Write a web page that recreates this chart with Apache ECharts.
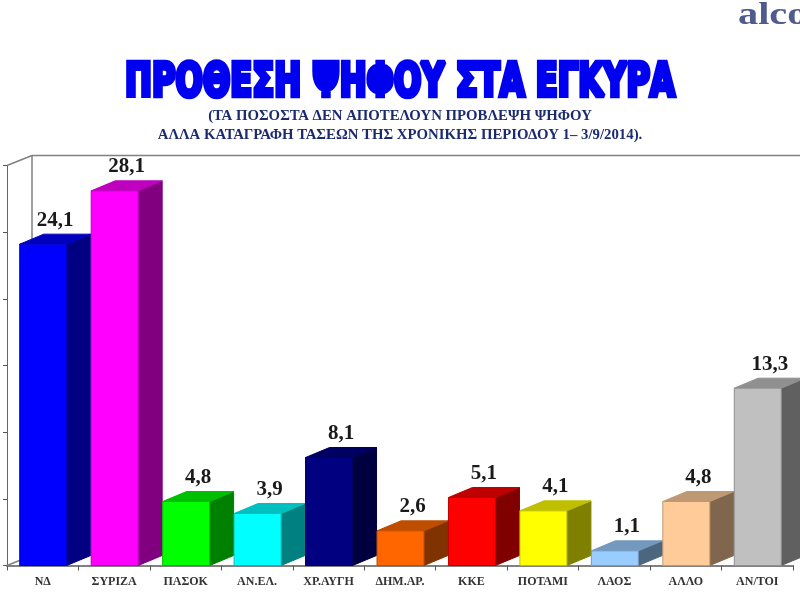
<!DOCTYPE html>
<html>
<head>
<meta charset="utf-8">
<style>html,body{margin:0;padding:0;background:#fff}#c{width:800px;height:600px}</style>
<script src="https://cdn.jsdelivr.net/npm/echarts@6/dist/echarts.min.js"></script>
</head>
<body>
<div id="c"></div>
<script>
const categories = ['ΝΔ','ΣΥΡΙΖΑ','ΠΑΣΟΚ','ΑΝ.ΕΛ.','ΧΡ.ΑΥΓΗ','ΔΗΜ.ΑΡ.','ΚΚΕ','ΠΟΤΑΜΙ','ΛΑΟΣ','ΑΛΛΟ','ΑΝ/ΤΟΙ'];
const values = [24.1,28.1,4.8,3.9,8.1,2.6,5.1,4.1,1.1,4.8,13.3];
const valueLabels = ['24,1','28,1','4,8','3,9','8,1','2,6','5,1','4,1','1,1','4,8','13,3'];
const palette = ['#0000ff','#ff00ff','#00ff00','#00ffff','#000080','#ff6600','#ff0000','#ffff00','#99ccff','#ffcc99','#c0c0c0'];
const titleText = 'ΠΡΟΘΕΣΗ ΨΗΦΟΥ ΣΤΑ ΕΓΚΥΡΑ';
const subtitle1 = '(ΤΑ ΠΟΣΟΣΤΑ ΔΕΝ ΑΠΟΤΕΛΟΥΝ ΠΡΟΒΛΕΨΗ ΨΗΦΟΥ';
const subtitle2 = 'ΑΛΛΑ ΚΑΤΑΓΡΑΦΗ ΤΑΣΕΩΝ ΤΗΣ ΧΡΟΝΙΚΗΣ ΠΕΡΙΟΔΟΥ 1– 3/9/2014).';

const DX = 24, DY = 10, BAR_W = 47;
function shade(hex, f){
  const n = parseInt(hex.slice(1),16);
  const c = [n>>16&255,n>>8&255,n&255].map(v=>Math.round(v*f));
  return 'rgb('+c.join(',')+')';
}
function poly(points, fill, stroke){
  return {type:'polygon',shape:{points},style:{fill,stroke,lineWidth:1}};
}
function renderBar(params, api){
  const i = api.value(0), v = api.value(1);
  const top = api.coord([i,v]), base = api.coord([i,0]);
  const l = top[0]-BAR_W/2+0.5, r = l+BAR_W, t = top[1], b = base[1];
  const col = palette[i], dark = shade(col,0.5), mid = shade(col,0.75);
  return {type:'group',children:[
    poly([[r,t],[r+DX,t-DY],[r+DX,b-DY],[r,b]],dark,dark),
    poly([[l,t],[l+DX,t-DY],[r+DX,t-DY],[r,t]],mid,mid),
    poly([[l,t],[r,t],[r,b],[l,b]],col,mid),
    {type:'text',style:{text:valueLabels[i],x:(l+r)/2+12,y:t-24,align:'center',verticalAlign:'middle',
      font:'bold 21px "Liberation Serif", serif',fill:'#1a1a1a'}}
  ]};
}
function renderWall(params, api){
  const cs = params.coordSys;
  const x0 = cs.x, yTop = cs.y, yBot = cs.y+cs.height;
  const line = (x1,y1,x2,y2)=>({type:'line',shape:{x1,y1,x2,y2},style:{stroke:'#808080',lineWidth:1.5}});
  return {type:'group',children:[
    line(x0,yTop,x0+DX+1,yTop-DY),
    line(x0+DX+1,yTop-DY,800,yTop-DY),
    line(x0+DX+1,yTop-DY,x0+DX+1,yBot-DY),
    line(x0,yBot,x0+DX+1,yBot-DY)
  ]};
}
const chart = echarts.init(document.getElementById('c'),null,{renderer:'canvas'});
chart.setOption({
  animation:false,
  backgroundColor:'#ffffff',
  grid:{left:7,right:7,top:165.5,height:400},
  xAxis:{type:'category',data:categories,boundaryGap:true,
    axisLine:{lineStyle:{color:'#808080',width:2}},
    axisTick:{show:true,alignWithLabel:false,length:5,lineStyle:{color:'#555'}},
    axisLabel:{interval:0,margin:10,color:'#333',fontFamily:'Liberation Serif',fontWeight:'bold',fontSize:12}},
  yAxis:{type:'value',min:0,max:30,interval:5,
    axisLine:{show:true,lineStyle:{color:'#666',width:1}},
    axisTick:{show:true,length:4,lineStyle:{color:'#555'}},
    axisLabel:{show:false},splitLine:{show:false}},
  series:[
    {type:'custom',name:'wall',data:[[0,0]],renderItem:renderWall,silent:true,z:1},
    {type:'custom',name:'bars',data:values.map((v,i)=>[i,v]),encode:{x:0,y:1},renderItem:renderBar,z:2,clip:false}
  ],
  graphic:[
    {type:'text',x:738,y:31,scaleX:1.3,style:{text:'alco',font:'bold 31px "Liberation Serif", serif',fill:'#4f5b8c',verticalAlign:'bottom'}},
    {type:'text',x:400,y:84,scaleX:0.715,scaleY:0.93,style:{text:titleText,align:'center',verticalAlign:'middle',
      font:'bold 50px "Liberation Sans Narrow", "DejaVu Sans Condensed", sans-serif',
      fill:'#0000f0',stroke:'#0000f0',lineWidth:5,shadowColor:'rgba(70,70,120,0.6)',shadowBlur:2,shadowOffsetX:1.5,shadowOffsetY:1.5}},
    {type:'text',x:400,y:116,style:{text:subtitle1,align:'center',verticalAlign:'middle',font:'bold 14.8px "Liberation Serif", serif',fill:'#1c2a70'}},
    {type:'text',x:400,y:135,style:{text:subtitle2,align:'center',verticalAlign:'middle',font:'bold 14.8px "Liberation Serif", serif',fill:'#1c2a70'}}
  ]
});
</script>
</body>
</html>
